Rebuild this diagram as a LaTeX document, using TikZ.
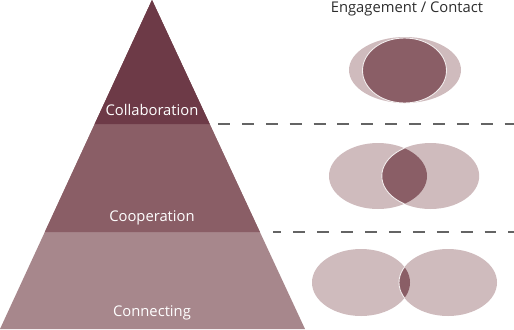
\documentclass[tikz,border=0pt]{standalone}
\usepackage{fontspec}
\setmainfont{Open Sans}
\usepackage{xcolor}
\definecolor{tier1}{RGB}{109, 58, 71}
\definecolor{tier2}{RGB}{138, 94, 102}
\definecolor{tier3}{RGB}{167, 135, 140}
\definecolor{ovallight}{RGB}{207, 187, 189}
\definecolor{ovaldark}{RGB}{138, 94, 102}
\definecolor{dashgray}{RGB}{100, 100, 100}
\definecolor{titletext}{RGB}{45, 45, 45}
\tikzstyle{tierlabel} = [text=white, inner sep=0pt, font=\fontsize{8.4}{10}\selectfont]
\tikzstyle{heading}   = [text=titletext, inner sep=0pt, font=\fontsize{8.4}{10}\selectfont]
\tikzstyle{divider}   = [dashgray, line width=1.1pt, dash pattern=on 6.8pt off 6.8pt]
\tikzstyle{ovalback}  = [fill=ovallight]
\tikzstyle{ovalfront} = [fill=ovaldark, draw=white!75!ovallight, line width=0.5pt]

\begin{document}
\begin{tikzpicture}[x=0.02cm, y=-0.02cm]
  \useasboundingbox (0,0) rectangle (514,329);

  % Pyramid
  \fill [tier3] (0,329) -- (152,0) -- (305,329) -- cycle;
  \fill [tier2] (44.8,232) -- (152,0) -- (259.9,232) -- cycle;
  \fill [tier1] (94.7,124) -- (152,0) -- (209.7,124) -- cycle;

  \node (collab) [tierlabel] at (152,110) {Collaboration};
  \node (coop)   [tierlabel] at (152,218) {Cooperation};
  \node (conn)   [tierlabel] at (152,313) {Connecting};

  % Dividers
  \coordinate (d1a) at (218,124);
  \coordinate (d1b) at (514,124);
  \coordinate (d2a) at (273,232);
  \coordinate (d2b) at (514,232);
  \draw [divider] (d1a) -- (d1b);
  \draw [divider, dash phase=2pt] (d2a) -- (d2b);

  \node (title) [heading] at (407,9) {Engagement / Contact};

  % Collaboration: nearly full overlap
  \fill [ovalback] (405,70) ellipse [x radius=56, y radius=33];
  \filldraw [ovalfront] (404.5,70.5) ellipse [x radius=42, y radius=32.5];

  % Cooperation: partial overlap
  \fill [ovalback] (378,176) ellipse [x radius=49, y radius=33];
  \fill [ovalback] (430.5,176) ellipse [x radius=48.7, y radius=33];
  \begin{scope}
    \clip (378,176) ellipse [x radius=49, y radius=33];
    \filldraw [ovalfront] (430.5,176) ellipse [x radius=48.7, y radius=33];
  \end{scope}

  % Connecting: small overlap
  \fill [ovalback] (361,282.5) ellipse [x radius=49, y radius=33.5];
  \fill [ovalback] (448,282.5) ellipse [x radius=49, y radius=33.5];
  \begin{scope}
    \clip (361,282.5) ellipse [x radius=49, y radius=33.5];
    \filldraw [ovalfront] (448,282.5) ellipse [x radius=49, y radius=33.5];
  \end{scope}
\end{tikzpicture}
\end{document}
